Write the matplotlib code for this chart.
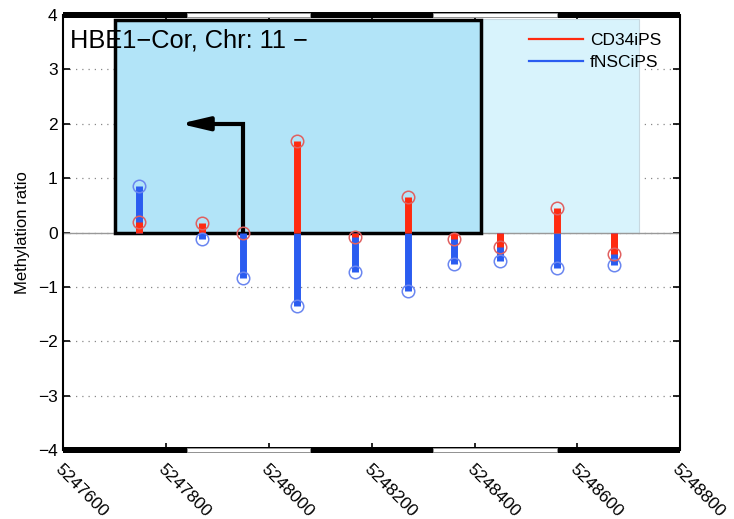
import matplotlib
matplotlib.use("Agg")
import matplotlib.pyplot as plt
from matplotlib.patches import Rectangle
import matplotlib.transforms as mtransforms

plt.rcParams['font.family'] = ['Liberation Sans', 'DejaVu Sans']

# CpG positions (bp) and methylation ratios
positions = [5247748, 5247870, 5247949, 5248054, 5248168,
             5248270, 5248359, 5248450, 5248560, 5248671]
cd34ips = [0.19, 0.17, -0.01, 1.69, -0.09, 0.66, -0.12, -0.26, 0.45, -0.40]
fnscips = [0.85, -0.12, -0.83, -1.35, -0.73, -1.08, -0.58, -0.53, -0.65, -0.60]

# gene / region boxes (start, end)
gene_box = (5247700, 5248412)
region_box = (5248412, 5248720)
tss_x, tss_left = 5247950, 5247827
xticks = [5247600, 5247800, 5248000, 5248200, 5248400, 5248600, 5248800]
yticks = [-4, -3, -2, -1, 0, 1, 2, 3, 4]
band_edges = [5247600, 5247840, 5248080, 5248320, 5248560, 5248800]

RED = "#ff2a10"
BLUE = "#2a5cf0"

fig = plt.figure(figsize=(7.34, 5.19), dpi=100)
ax = fig.add_axes([0.0862, 0.133, 0.8406, 0.838])
ax.set_xlim(xticks[0], xticks[-1])
ax.set_ylim(-4, 4)

ax.set_axisbelow(True)
ax.yaxis.grid(True, linestyle=(0, (1, 4)), color="#888888", lw=0.9)
ax.axhline(0, color="#999999", lw=1.0, zorder=1.5)

# region boxes
ax.add_patch(Rectangle((region_box[0], 0), region_box[1] - region_box[0], 3.92,
                       facecolor="#d8f3fc", edgecolor="#c8d8e0", lw=0.8, zorder=1))
ax.add_patch(Rectangle((gene_box[0], 0), gene_box[1] - gene_box[0], 3.9,
                       facecolor="#b2e4f8", edgecolor="black", lw=2.5, zorder=2))

# TSS arrow
ax.plot([tss_x, tss_x, tss_left + 40], [0, 2, 2], color="black", lw=3,
        solid_capstyle="butt", solid_joinstyle="miter", zorder=3)
ax.annotate("", xy=(tss_left, 2), xytext=(tss_left + 60, 2),
            arrowprops=dict(arrowstyle="-|>,head_length=1.7,head_width=0.4",
                            color="black", lw=3, shrinkA=0, shrinkB=0), zorder=3)

# stems
ax.vlines(positions, 0, fnscips, colors=BLUE, lw=5, zorder=4)
ax.vlines(positions, 0, cd34ips, colors=RED, lw=5, zorder=5)
ax.plot(positions, fnscips, "o", ms=9, mfc="none", mec="#6a86f0", mew=1.1, zorder=6)
ax.plot(positions, cd34ips, "o", ms=9, mfc="none", mec="#e06060", mew=1.1, zorder=7)

# legend
ax.plot([], [], color=RED, lw=1.6, label="CD34iPS")
ax.plot([], [], color=BLUE, lw=1.6, label="fNSCiPS")
ax.legend(loc="upper left", bbox_to_anchor=(0.755, 0.96), frameon=False,
          fontsize=12.5, handlelength=3.1, handletextpad=0.4, labelspacing=0.4,
          borderpad=0, borderaxespad=0)

ax.text(0.011, 0.926, "HBE1\u2212Cor, Chr: 11 \u2212", transform=ax.transAxes,
        fontsize=18.3, ha="left", va="baseline", zorder=8)

# scale bands on top and bottom edges
trans = mtransforms.blended_transform_factory(ax.transData, ax.transAxes)
bh = 0.014
for ypos in (1 - bh / 2, -bh / 2):
    ax.add_patch(Rectangle((band_edges[0], ypos), band_edges[-1] - band_edges[0], bh,
                           transform=trans, facecolor="black", edgecolor="none",
                           clip_on=False, zorder=9))
    for i in (1, 3):
        ax.add_patch(Rectangle((band_edges[i], ypos + bh * 0.2),
                               band_edges[i + 1] - band_edges[i], bh * 0.6,
                               transform=trans, facecolor="white", edgecolor="#999999",
                               lw=0.6, clip_on=False, zorder=10))

for s in ("top", "bottom"):
    ax.spines[s].set_visible(False)
for s in ("left", "right"):
    ax.spines[s].set_linewidth(1.5)

ax.set_xticks(xticks)
ax.set_xticklabels([str(x) for x in xticks], rotation=-45, ha="left", va="top",
                   rotation_mode="anchor", fontsize=12.5)
ax.set_yticks(yticks)
ax.tick_params(axis="both", direction="in", length=5, width=1.2, top=True, right=True,
               labelsize=12.5)
ax.tick_params(axis="x", pad=8)
ax.tick_params(axis="y", pad=4)
ax.set_ylabel("Methylation ratio", fontsize=12, labelpad=6)

fig.savefig("out.png", dpi=100)
